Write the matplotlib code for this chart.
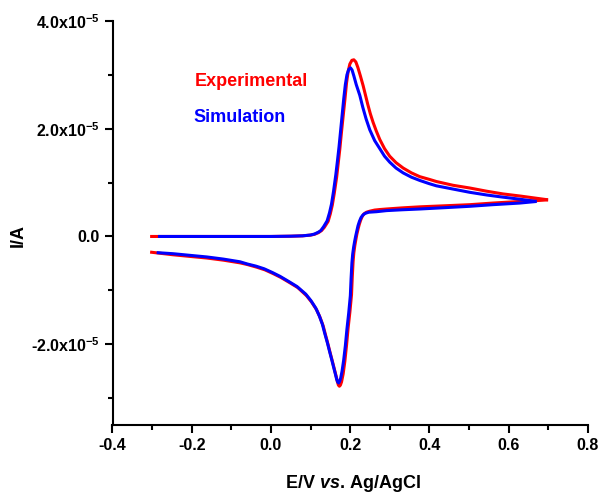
import matplotlib
matplotlib.use("Agg")
import matplotlib.pyplot as plt
from matplotlib.ticker import FixedLocator, FixedFormatter, MultipleLocator

# ---- data (E in V, I in units of 1e-5 A) ----
exp_fwd_E = [-0.305, -0.20, -0.10, 0.00, 0.05, 0.08, 0.10, 0.11, 0.12, 0.128, 0.135, 0.1445,
             0.150, 0.155, 0.160, 0.166, 0.170, 0.174, 0.178, 0.1824, 0.187, 0.191, 0.195,
             0.1993, 0.2045, 0.2094, 0.2145, 0.2195, 0.226, 0.2329, 0.2447, 0.251, 0.258,
             0.266, 0.275, 0.287, 0.300, 0.316, 0.334, 0.355, 0.376, 0.400, 0.418, 0.460,
             0.502, 0.545, 0.586, 0.630, 0.670, 0.700]
exp_fwd_I = [0.00, 0.00, 0.00, 0.00, 0.005, 0.012, 0.025, 0.04, 0.07, 0.11, 0.17, 0.28,
             0.42, 0.58, 0.80, 1.10, 1.36, 1.62, 1.92, 2.23, 2.55, 2.85, 3.06,
             3.20, 3.27, 3.28, 3.24, 3.14, 2.98, 2.80, 2.45, 2.28, 2.12,
             1.96, 1.80, 1.63, 1.49, 1.37, 1.27, 1.18, 1.11, 1.06, 1.02, 0.95,
             0.90, 0.84, 0.79, 0.75, 0.71, 0.68]

exp_rev_E = [0.700, 0.660, 0.628, 0.560, 0.502, 0.440, 0.376, 0.330, 0.292, 0.275, 0.262,
             0.250, 0.2414, 0.235, 0.2305, 0.2265, 0.223, 0.2202, 0.217, 0.2145, 0.2119,
             0.2095, 0.2076, 0.2055, 0.2036, 0.1995, 0.195, 0.191, 0.1867, 0.1825, 0.1784,
             0.1755, 0.173, 0.1705, 0.168, 0.165, 0.1605, 0.1557, 0.150, 0.1445, 0.138,
             0.132, 0.124, 0.1153, 0.103, 0.090, 0.068, 0.048, 0.025, 0.0058, -0.015,
             -0.036, -0.060, -0.078, -0.120, -0.162, -0.205, -0.247, -0.305]
exp_rev_I = [0.68, 0.66, 0.65, 0.62, 0.59, 0.57, 0.55, 0.53, 0.51, 0.50, 0.49,
             0.47, 0.45, 0.42, 0.37, 0.30, 0.22, 0.14, 0.04, -0.06, -0.17,
             -0.30, -0.46, -0.75, -1.08, -1.40, -1.70, -2.02, -2.32, -2.55, -2.70,
             -2.76, -2.78, -2.76, -2.70, -2.60, -2.47, -2.33, -2.17, -2.01, -1.83,
             -1.66, -1.50, -1.36, -1.22, -1.10, -0.95, -0.86, -0.76, -0.69, -0.62,
             -0.57, -0.52, -0.49, -0.44, -0.40, -0.37, -0.34, -0.29]

sim_fwd_E = [-0.285, -0.20, -0.10, 0.00, 0.05, 0.08, 0.10, 0.11, 0.12, 0.126, 0.133, 0.142,
             0.148, 0.153, 0.158, 0.164, 0.168, 0.172, 0.176, 0.180, 0.184, 0.188, 0.192,
             0.1965, 0.201, 0.205, 0.2095, 0.2155, 0.2245, 0.232, 0.2405, 0.2497, 0.262,
             0.275, 0.287, 0.300, 0.316, 0.334, 0.355, 0.376, 0.400, 0.418, 0.460, 0.502,
             0.545, 0.586, 0.630, 0.671]
sim_fwd_I = [0.00, 0.00, 0.00, 0.00, 0.005, 0.012, 0.027, 0.045, 0.08, 0.11, 0.18, 0.29,
             0.44, 0.60, 0.83, 1.15, 1.40, 1.66, 1.96, 2.26, 2.56, 2.82, 3.00,
             3.10, 3.13, 3.09, 2.98, 2.82, 2.62, 2.40, 2.18, 1.98, 1.78,
             1.63, 1.49, 1.38, 1.27, 1.18, 1.10, 1.04, 0.98, 0.94, 0.88, 0.82,
             0.77, 0.73, 0.69, 0.65]

sim_rev_E = [0.671, 0.628, 0.560, 0.502, 0.440, 0.376, 0.330, 0.292, 0.267, 0.247, 0.2384,
             0.2325, 0.2275, 0.2235, 0.220, 0.2172, 0.2142, 0.2115, 0.2089, 0.2065, 0.2046,
             0.2025, 0.2006, 0.1965, 0.192, 0.188, 0.1837, 0.1797, 0.1762, 0.1735, 0.171,
             0.1685, 0.166, 0.163, 0.1585, 0.1537, 0.148, 0.1425, 0.136, 0.130, 0.122,
             0.1133, 0.101, 0.088, 0.066, 0.046, 0.023, 0.004, -0.017, -0.038, -0.060,
             -0.078, -0.120, -0.162, -0.205, -0.247, -0.2885]
sim_rev_I = [0.65, 0.62, 0.59, 0.56, 0.535, 0.51, 0.495, 0.48, 0.46, 0.45, 0.43,
             0.40, 0.35, 0.28, 0.20, 0.11, 0.01, -0.09, -0.20, -0.33, -0.49,
             -0.78, -1.10, -1.42, -1.72, -2.03, -2.30, -2.50, -2.63, -2.69, -2.72,
             -2.70, -2.65, -2.56, -2.43, -2.29, -2.13, -1.97, -1.80, -1.63, -1.47,
             -1.33, -1.19, -1.07, -0.93, -0.84, -0.74, -0.67, -0.60, -0.55, -0.51,
             -0.47, -0.42, -0.38, -0.35, -0.32, -0.30]

x_ticks = [-0.4, -0.2, 0.0, 0.2, 0.4, 0.6, 0.8]
x_tick_labels = ['-0.4', '-0.2', '0.0', '0.2', '0.4', '0.6', '0.8']
y_ticks = [-2.0e-5, 0.0, 2.0e-5, 4.0e-5]
y_tick_labels = ['-2.0x10$^{-5}$', '0.0', '2.0x10$^{-5}$', '4.0x10$^{-5}$']
legend_labels = ['Experimental', 'Simulation']
colors = ['#ff0000', '#0000ff']

scale = 1e-5

plt.rcParams['font.family'] = ['Liberation Sans', 'DejaVu Sans']
plt.rcParams['font.weight'] = 'bold'
plt.rcParams['mathtext.fontset'] = 'custom'
plt.rcParams['mathtext.rm'] = 'Liberation Sans:bold'
plt.rcParams['mathtext.bf'] = 'Liberation Sans:bold'
plt.rcParams['mathtext.it'] = 'Liberation Sans:italic:bold'
plt.rcParams['mathtext.default'] = 'bf'

fig = plt.figure(figsize=(6.02, 4.94), dpi=100)
ax = fig.add_axes([112.5/602, 1-425/494, 475.2/602, 404/494])

lw = 2.2
kw = dict(lw=lw, solid_joinstyle='round', solid_capstyle='butt')
ax.plot(exp_fwd_E, [v*scale for v in exp_fwd_I], color=colors[0], **kw)
ax.plot(exp_rev_E, [v*scale for v in exp_rev_I], color=colors[0], **kw)
ax.plot(sim_fwd_E, [v*scale for v in sim_fwd_I], color=colors[1], **kw)
ax.plot(sim_rev_E, [v*scale for v in sim_rev_I], color=colors[1], **kw)

ax.set_xlim(-0.4, 0.8)
ax.set_ylim(-3.5e-5, 4.0e-5)

for s in ['top', 'right']:
    ax.spines[s].set_visible(False)
for s in ['left', 'bottom']:
    ax.spines[s].set_linewidth(1.5)

ax.xaxis.set_major_locator(FixedLocator(x_ticks))
ax.xaxis.set_major_formatter(FixedFormatter(x_tick_labels))
ax.xaxis.set_minor_locator(MultipleLocator(0.1))
ax.yaxis.set_major_locator(FixedLocator(y_ticks))
ax.yaxis.set_major_formatter(FixedFormatter(y_tick_labels))
ax.yaxis.set_minor_locator(MultipleLocator(1e-5))

ax.tick_params(which='major', direction='out', length=6, width=1.5, labelsize=11.5, pad=3)
ax.tick_params(which='minor', direction='out', length=3.5, width=1.5)
for lab in ax.get_xticklabels() + ax.get_yticklabels():
    lab.set_fontweight('bold')

ax.set_xlabel(r'E/V $\mathit{vs.}\,$Ag/AgCl', fontsize=13, fontweight='bold')
ax.xaxis.set_label_coords(0.506, -0.118)
ax.set_ylabel('I/A', fontsize=13, fontweight='bold')
ax.yaxis.set_label_coords(-0.180, 0.468)

ax.text(0.1736, 0.840, legend_labels[0], transform=ax.transAxes, color=colors[0],
        fontsize=13, fontweight='bold', ha='left', va='baseline')
ax.text(0.170, 0.751, legend_labels[1], transform=ax.transAxes, color=colors[1],
        fontsize=13, fontweight='bold', ha='left', va='baseline')

fig.savefig('out.png', dpi=100)
